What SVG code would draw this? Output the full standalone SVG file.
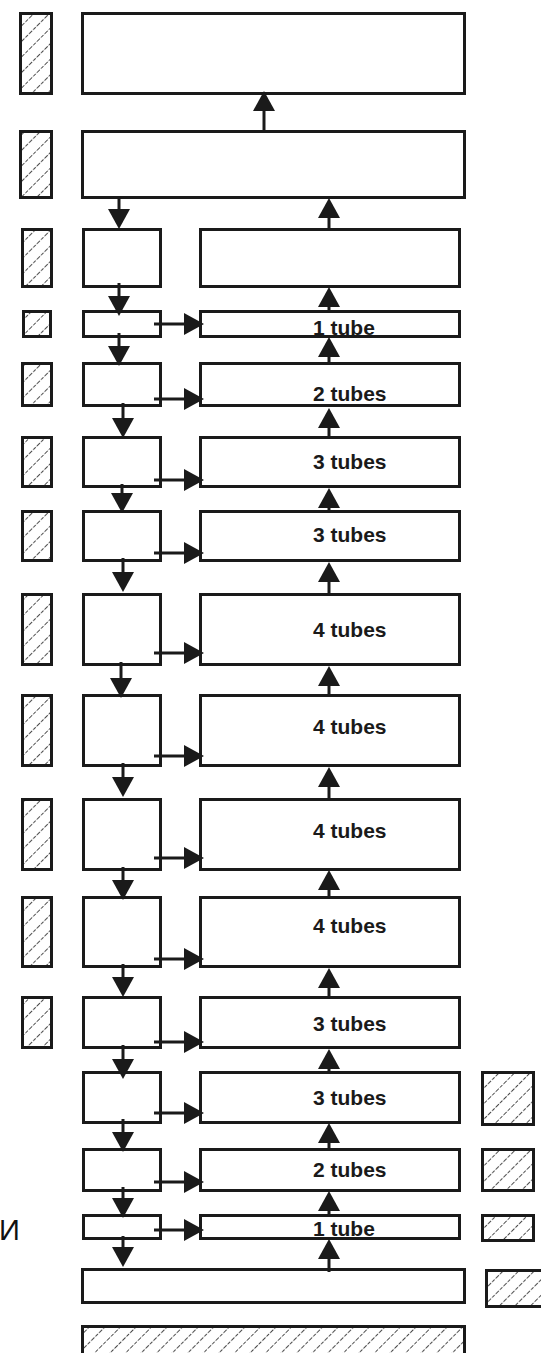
<svg xmlns="http://www.w3.org/2000/svg" width="541" height="1353" viewBox="0 0 541 1353">
  <defs>
    <!-- diagonal hatching for the shaded blocks -->
    <pattern id="hatch" patternUnits="userSpaceOnUse" width="11" height="11" patternTransform="rotate(45)">
      <rect width="11" height="11" fill="#fff"/>
      <line x1="0" y1="0" x2="0" y2="11" stroke="#000" stroke-width="1.4" stroke-dasharray="3.5 1.5"/>
    </pattern>
    <marker id="head" markerUnits="userSpaceOnUse" markerWidth="22" markerHeight="22" refX="10" refY="11" orient="auto">
      <path d="M0,0 L20,11 L0,22 Z" fill="#1a1a1a"/>
    </marker>
    <style>
      .box { fill: #fff; stroke: #1a1a1a; stroke-width: 3; }
      .hat { fill: url(#hatch); stroke: #1a1a1a; stroke-width: 3; }
      .arr { stroke: #1a1a1a; stroke-width: 3; fill: none; marker-end: url(#head); }
      .lbl { font-family: "Liberation Sans", Arial, sans-serif; font-weight: bold; font-size: 21px; fill: #1a1a1a; }
      .side { font-family: "Liberation Sans", Arial, sans-serif; font-size: 29px; fill: #111; }
    </style>
  </defs>
  <rect width="541" height="1353" fill="#fff"/>

  <!-- wide top blocks -->
  <g id="n1"><rect class="hat" x="20.5" y="13.5" width="31" height="80"/><rect class="box" x="82.5" y="13.5" width="382" height="80"/></g>
  <g id="n2"><rect class="hat" x="20.5" y="131.5" width="31" height="66"/><rect class="box" x="82.5" y="131.5" width="382" height="66"/></g>

  <!-- stages: left block, right block, shading -->
  <g id="n3"><rect class="hat" x="22.5" y="229.5" width="29" height="57"/><rect class="box" x="83.5" y="229.5" width="77" height="57"/><rect class="box" x="200.5" y="229.5" width="259" height="57"/></g>
  <g id="n4"><rect class="hat" x="23.5" y="311.5" width="27" height="25"/><rect class="box" x="83.5" y="311.5" width="77" height="25"/><rect class="box" x="200.5" y="311.5" width="259" height="25"/><text class="lbl" x="313" y="335">1 tube</text></g>
  <g id="n5"><rect class="hat" x="22.5" y="363.5" width="29" height="42"/><rect class="box" x="83.5" y="363.5" width="77" height="42"/><rect class="box" x="200.5" y="363.5" width="259" height="42"/><text class="lbl" x="313" y="401">2 tubes</text></g>
  <g id="n6"><rect class="hat" x="22.5" y="437.5" width="29" height="49"/><rect class="box" x="83.5" y="437.5" width="77" height="49"/><rect class="box" x="200.5" y="437.5" width="259" height="49"/><text class="lbl" x="313" y="469">3 tubes</text></g>
  <g id="n7"><rect class="hat" x="22.5" y="511.5" width="29" height="49"/><rect class="box" x="83.5" y="511.5" width="77" height="49"/><rect class="box" x="200.5" y="511.5" width="259" height="49"/><text class="lbl" x="313" y="542">3 tubes</text></g>
  <g id="n8"><rect class="hat" x="22.5" y="594.5" width="29" height="70"/><rect class="box" x="83.5" y="594.5" width="77" height="70"/><rect class="box" x="200.5" y="594.5" width="259" height="70"/><text class="lbl" x="313" y="637">4 tubes</text></g>
  <g id="n9"><rect class="hat" x="22.5" y="695.5" width="29" height="70"/><rect class="box" x="83.5" y="695.5" width="77" height="70"/><rect class="box" x="200.5" y="695.5" width="259" height="70"/><text class="lbl" x="313" y="734">4 tubes</text></g>
  <g id="n10"><rect class="hat" x="22.5" y="799.5" width="29" height="70"/><rect class="box" x="83.5" y="799.5" width="77" height="70"/><rect class="box" x="200.5" y="799.5" width="259" height="70"/><text class="lbl" x="313" y="838">4 tubes</text></g>
  <g id="n11"><rect class="hat" x="22.5" y="897.5" width="29" height="69"/><rect class="box" x="83.5" y="897.5" width="77" height="69"/><rect class="box" x="200.5" y="897.5" width="259" height="69"/><text class="lbl" x="313" y="933">4 tubes</text></g>
  <g id="n12"><rect class="hat" x="22.5" y="997.5" width="29" height="50"/><rect class="box" x="83.5" y="997.5" width="77" height="50"/><rect class="box" x="200.5" y="997.5" width="259" height="50"/><text class="lbl" x="313" y="1031">3 tubes</text></g>
  <g id="n13"><rect class="box" x="83.5" y="1072.5" width="77" height="50"/><rect class="box" x="200.5" y="1072.5" width="259" height="50"/><rect class="hat" x="482.5" y="1072.5" width="51" height="52"/><text class="lbl" x="313" y="1105">3 tubes</text></g>
  <g id="n14"><rect class="box" x="83.5" y="1149.5" width="77" height="41"/><rect class="box" x="200.5" y="1149.5" width="259" height="41"/><rect class="hat" x="482.5" y="1149.5" width="51" height="41"/><text class="lbl" x="313" y="1177">2 tubes</text></g>
  <g id="n15"><rect class="box" x="83.5" y="1215.5" width="77" height="23"/><rect class="box" x="200.5" y="1215.5" width="259" height="23"/><rect class="hat" x="482.5" y="1215.5" width="51" height="25"/><text class="lbl" x="313" y="1236">1 tube</text></g>

  <!-- wide bottom blocks -->
  <g id="n16"><rect class="box" x="82.5" y="1269.5" width="382" height="33"/><rect class="hat" x="486.5" y="1270.5" width="62" height="36"/></g>
  <g id="n17"><rect class="hat" x="82.5" y="1326.5" width="382" height="36"/></g>

  <g id="side-label"><text class="side" x="-1" y="1240">И</text></g>

  <g id="connectors">
    <!-- upward flow through the right column -->
    <line class="arr" x1="264" y1="131" x2="264" y2="101"/>
    <line class="arr" x1="329" y1="229" x2="329" y2="208"/>
    <line class="arr" x1="329" y1="311" x2="329" y2="297"/>
    <line class="arr" x1="329" y1="363" x2="329" y2="347"/>
    <line class="arr" x1="329" y1="437" x2="329" y2="418"/>
    <line class="arr" x1="329" y1="511" x2="329" y2="498"/>
    <line class="arr" x1="329" y1="594" x2="329" y2="572"/>
    <line class="arr" x1="329" y1="695" x2="329" y2="676"/>
    <line class="arr" x1="329" y1="799" x2="329" y2="777"/>
    <line class="arr" x1="329" y1="897" x2="329" y2="880"/>
    <line class="arr" x1="329" y1="997" x2="329" y2="978"/>
    <line class="arr" x1="329" y1="1072" x2="329" y2="1059"/>
    <line class="arr" x1="329" y1="1149" x2="329" y2="1133"/>
    <line class="arr" x1="329" y1="1215" x2="329" y2="1201"/>
    <line class="arr" x1="329" y1="1272" x2="329" y2="1249"/>

    <!-- downward flow through the left column -->
    <line class="arr" x1="119" y1="198" x2="119" y2="219"/>
    <line class="arr" x1="119" y1="283" x2="119" y2="306"/>
    <line class="arr" x1="119" y1="333" x2="119" y2="356"/>
    <line class="arr" x1="123" y1="403" x2="123" y2="428"/>
    <line class="arr" x1="122" y1="484" x2="122" y2="503"/>
    <line class="arr" x1="123" y1="558" x2="123" y2="582"/>
    <line class="arr" x1="121" y1="662" x2="121" y2="688"/>
    <line class="arr" x1="123" y1="763" x2="123" y2="787"/>
    <line class="arr" x1="123" y1="867" x2="123" y2="890"/>
    <line class="arr" x1="123" y1="964" x2="123" y2="987"/>
    <line class="arr" x1="123" y1="1045" x2="123" y2="1069"/>
    <line class="arr" x1="123" y1="1119" x2="123" y2="1142"/>
    <line class="arr" x1="123" y1="1187" x2="123" y2="1208"/>
    <line class="arr" x1="123" y1="1236" x2="123" y2="1257"/>

    <!-- transfers from left blocks to right blocks -->
    <line class="arr" x1="154" y1="324" x2="194" y2="324"/>
    <line class="arr" x1="154" y1="399" x2="194" y2="399"/>
    <line class="arr" x1="154" y1="480" x2="194" y2="480"/>
    <line class="arr" x1="154" y1="553" x2="194" y2="553"/>
    <line class="arr" x1="154" y1="653" x2="194" y2="653"/>
    <line class="arr" x1="154" y1="756" x2="194" y2="756"/>
    <line class="arr" x1="154" y1="858" x2="194" y2="858"/>
    <line class="arr" x1="154" y1="959" x2="194" y2="959"/>
    <line class="arr" x1="154" y1="1042" x2="194" y2="1042"/>
    <line class="arr" x1="154" y1="1113" x2="194" y2="1113"/>
    <line class="arr" x1="154" y1="1182" x2="194" y2="1182"/>
    <line class="arr" x1="154" y1="1230" x2="194" y2="1230"/>
  </g>
</svg>
